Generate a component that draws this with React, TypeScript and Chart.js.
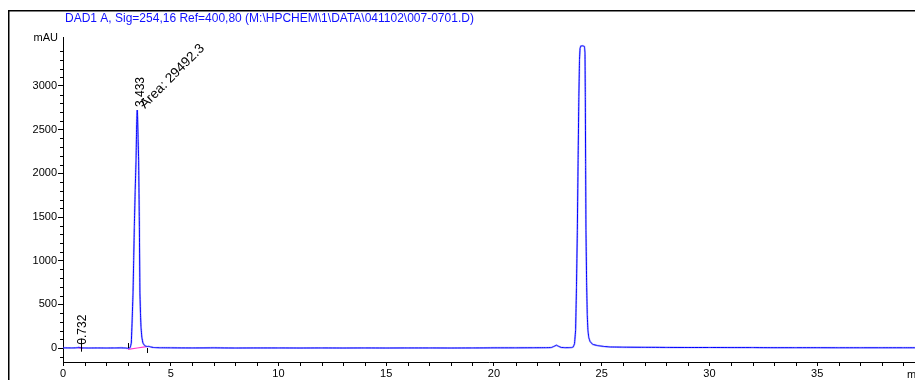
import React, { useEffect, useRef } from "react";
import { Chart, registerables } from "chart.js";
Chart.register(...registerables);

const titleText = "DAD1 A, Sig=254,16 Ref=400,80 (M:\\HPCHEM\\1\\DATA\\041102\\007-0701.D)";
const yUnit = "mAU";
const xUnit = "min";

const traceTime = [
  0.0, 0.4, 0.6, 0.7, 0.73, 0.78, 0.9, 1.2, 1.6, 2.0, 2.4, 2.7, 2.9, 3.0, 3.05,
  3.12, 3.17, 3.21, 3.25, 3.28, 3.31, 3.35, 3.39, 3.415, 3.435, 3.445, 3.46, 3.485,
  3.51, 3.545, 3.57, 3.595, 3.62, 3.66, 3.71, 3.77, 3.85, 3.93, 3.98, 4.06, 4.2,
  4.5, 5.0, 6.0, 7.0, 8.0, 9.0, 10.0, 11.0, 12.0, 13.0, 14.0, 15.0, 16.0, 17.0,
  18.0, 19.0, 20.0, 21.0, 21.8, 22.4, 22.66, 22.78, 22.9, 23.01, 23.13, 23.3,
  23.6, 23.68, 23.74, 23.79, 23.83, 23.87, 23.905, 23.94, 23.97, 23.995, 24.03,
  24.12, 24.2, 24.225, 24.24, 24.255, 24.27, 24.3, 24.33, 24.36, 24.4, 24.46,
  24.58, 24.8, 25.1, 25.4, 26.0, 27.0, 28.0, 29.0, 30.0, 31.0, 32.0, 33.0, 34.0,
  35.0, 36.0, 37.0, 38.0, 39.0, 39.6,
];
const traceMAU = [
  2, 1, 2, 4, 8, 4, 1, 0, 1, 0, 1, 2, 0, -3, -2,
  6, 57, 320, 630, 1000, 1386, 1800, 2153, 2500, 2690, 2725, 2660, 2400,
  2153, 1386, 630, 400, 240, 120, 57, 33, 20, 17, 19, 13, 6,
  3, 2, 1, 2, 0, 1, 1, 0, 1, 0, 1, 0, 1, 1,
  0, 1, 2, 2, 3, 4, 5, 18, 32, 18, 6, 4,
  5, 12, 50, 206, 700, 1352, 2150, 2878, 3300, 3430, 3458,
  3460, 3452, 3380, 2878, 2100, 1352, 750, 380, 206, 120, 75,
  42, 28, 18, 12, 10, 8, 7, 6, 6, 5, 5, 4, 4,
  4, 3, 3, 3, 3, 3,
];

const baseline1Time = [0.7, 0.93];
const baseline1MAU = [1, 1];
const baseline2Time = [3.02, 3.87];
const baseline2MAU = [-15, 15];

const peakTimes = [0.732, 3.433];
const peakLabels = ["0.732", "3.433"];
const peakTops = [4, 2725];
const areaText = "Area: 29492.3";
const eventTimes = [3.02, 3.88];

const xTicks = [0, 5, 10, 15, 20, 25, 30, 35];
const yTicks = [0, 500, 1000, 1500, 2000, 2500, 3000];

const FONT = "'Liberation Sans', Arial, Helvetica, sans-serif";

export default function App() {
  const ref = useRef<HTMLCanvasElement | null>(null);

  useEffect(() => {
    if (!ref.current) return;
    const trace = traceTime.map((t, i) => ({ x: t, y: traceMAU[i] }));
    const b1 = baseline1Time.map((t, i) => ({ x: t, y: baseline1MAU[i] }));
    const b2 = baseline2Time.map((t, i) => ({ x: t, y: baseline2MAU[i] }));

    const decor = {
      id: "decor",
      afterDraw(chart: any) {
        const ctx = chart.ctx as CanvasRenderingContext2D;
        const xs = chart.scales.x;
        const ys = chart.scales.y;
        const area = chart.chartArea;
        ctx.save();
        // frame
        ctx.strokeStyle = "#000";
        ctx.lineWidth = 1.5;
        ctx.beginPath();
        ctx.moveTo(8.75, 380);
        ctx.lineTo(8.75, 10.75);
        ctx.lineTo(915, 10.75);
        ctx.stroke();
        // title
        ctx.fillStyle = "#1010ff";
        ctx.font = `12px ${FONT}`;
        ctx.textAlign = "left";
        ctx.textBaseline = "alphabetic";
        ctx.fillText(titleText, 65, 22);
        // units
        ctx.fillStyle = "#000";
        ctx.font = `11px ${FONT}`;
        ctx.textAlign = "right";
        ctx.fillText(yUnit, 58, 41);
        ctx.textAlign = "left";
        ctx.textBaseline = "top";
        ctx.fillText(xUnit, 907, 369);
        // minor ticks
        ctx.strokeStyle = "#000";
        ctx.lineWidth = 1;
        ctx.beginPath();
        for (let v = -100; v <= 3500; v += 100) {
          if (v % 500 === 0) continue;
          const py = Math.round(ys.getPixelForValue(v)) + 0.5;
          ctx.moveTo(area.left - 3, py);
          ctx.lineTo(area.left, py);
        }
        for (let t = 1; t <= 39; t += 1) {
          if (t % 5 === 0) continue;
          const px = Math.round(xs.getPixelForValue(t)) + 0.5;
          ctx.moveTo(px, area.bottom);
          ctx.lineTo(px, area.bottom + 4);
        }
        ctx.stroke();
        // event ticks
        ctx.beginPath();
        eventTimes.forEach((t, i) => {
          const px = Math.round(xs.getPixelForValue(t)) + 0.5;
          const py = ys.getPixelForValue(0);
          if (i === 0) {
            ctx.moveTo(px, py - 5);
            ctx.lineTo(px, py);
          } else {
            ctx.moveTo(px, py);
            ctx.lineTo(px, py + 5);
          }
        });
        ctx.stroke();
        // peak labels
        ctx.font = `12px ${FONT}`;
        ctx.fillStyle = "#000";
        ctx.textAlign = "left";
        ctx.textBaseline = "alphabetic";
        peakTimes.forEach((t, i) => {
          const px = xs.getPixelForValue(t);
          const py = ys.getPixelForValue(peakTops[i]);
          ctx.save();
          ctx.translate(px + 7, py - 3);
          ctx.rotate(-Math.PI / 2);
          ctx.fillText(peakLabels[i], 0, 0);
          ctx.restore();
          if (i === 0) {
            ctx.beginPath();
            ctx.moveTo(Math.round(px) + 2.5, py - 9);
            ctx.lineTo(Math.round(px) + 2.5, py + 4);
            ctx.stroke();
          }
        });
        {
          const px = xs.getPixelForValue(peakTimes[1]);
          const py = ys.getPixelForValue(peakTops[1]);
          ctx.save();
          ctx.font = `13.5px ${FONT}`;
          ctx.translate(px + 8, py - 1);
          ctx.rotate(-Math.PI / 4);
          ctx.fillText(areaText, 0, 0);
          ctx.restore();
        }
        ctx.restore();
      },
    };

    const lineCommon = {
      showLine: true,
      pointRadius: 0,
      tension: 0.0001,
    };

    const chart = new Chart(ref.current, {
      type: "scatter",
      data: {
        datasets: [
          { ...lineCommon, data: b1, borderColor: "#ff33cc", borderWidth: 1.2, order: 3 },
          { ...lineCommon, data: b2, borderColor: "#ff33cc", borderWidth: 1.2, order: 3 },
          { ...lineCommon, data: trace, borderColor: "rgba(120,120,255,0.45)", borderWidth: 2, order: 2 },
          { ...lineCommon, data: trace, borderColor: "#0000ff", borderWidth: 1, order: 1 },
        ],
      },
      options: {
        responsive: false,
        animation: false,
        devicePixelRatio: 1,
        layout: { padding: { top: 37, left: 0, right: 0, bottom: 0 } },
        plugins: {
          legend: { display: false },
          tooltip: { enabled: false },
          title: { display: false },
        },
        scales: {
          x: {
            type: "linear",
            min: 0,
            max: 39.54,
            afterBuildTicks: (s: any) => {
              s.ticks = xTicks.map((v) => ({ value: v }));
            },
            afterFit: (s: any) => {
              s.height = 18;
            },
            ticks: {
              color: "#000",
              font: { family: FONT, size: 11 },
              padding: 1,
              maxRotation: 0,
              autoSkip: false,
              callback: (v: any) => String(v),
            },
            grid: {
              display: true,
              drawOnChartArea: false,
              drawTicks: true,
              tickLength: 4,
              color: "#000",
              lineWidth: 1,
            },
            border: { display: true, color: "#000", width: 1 },
          },
          y: {
            type: "linear",
            min: -160,
            max: 3561,
            afterBuildTicks: (s: any) => {
              s.ticks = yTicks.map((v) => ({ value: v }));
            },
            afterFit: (s: any) => {
              s.width = 63;
            },
            ticks: {
              color: "#000",
              font: { family: FONT, size: 11 },
              padding: 1,
              autoSkip: false,
              callback: (v: any) => String(v),
            },
            grid: {
              display: true,
              drawOnChartArea: false,
              drawTicks: true,
              tickLength: 5,
              color: "#000",
              lineWidth: 1,
            },
            border: { display: true, color: "#000", width: 1 },
          },
        },
      },
      plugins: [decor],
    });
    return () => chart.destroy();
  }, []);

  return (
    <div style={{ position: "fixed", left: 0, top: 0, width: 915, height: 380, background: "#fff" }}>
      <canvas ref={ref} width={915} height={380} style={{ display: "block" }} />
    </div>
  );
}
